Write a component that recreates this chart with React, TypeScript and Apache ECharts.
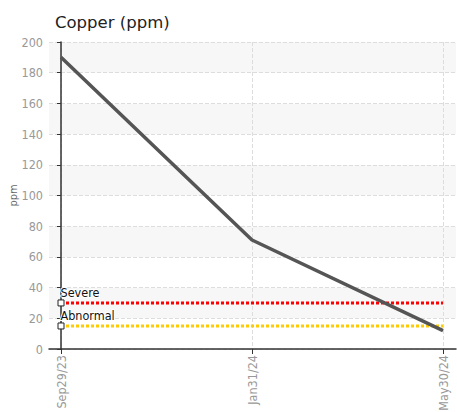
import React, { useEffect, useRef } from "react";
import * as echarts from "echarts";

const categories = ["Sep29/23", "Jan31/24", "May30/24"];
const copperValues = [190, 71, 12];
const severeValue = 30;
const abnormalValue = 15;
const yTicks = [0, 20, 40, 60, 80, 100, 120, 140, 160, 180, 200];

const labelFont = "'DejaVu Sans Condensed', 'Roboto', sans-serif";

export default function App() {
  const ref = useRef<HTMLDivElement>(null);
  useEffect(() => {
    if (!ref.current) return;
    const chart = echarts.init(ref.current, null, { renderer: "svg" });
    const idx = categories.map((_, i) => i);
    const last = categories.length - 1;
    const thresholdData = (v: number) =>
      [0, last].map((i) => ({
        value: [i, v],
        symbol: i === 0 ? "rect" : "none",
      }));
    const thresholdLabel = (text: string) => ({
      show: true,
      position: [3, -13],
      align: "left",
      formatter: (p: any) => (p.dataIndex === 0 ? text : ""),
      color: "#111",
      fontFamily: labelFont,
      fontSize: 12.5,
      textBorderColor: "#fff",
      textBorderWidth: 2,
    });
    chart.setOption({
      animation: false,
      title: {
        text: "Copper (ppm)",
        left: 50,
        top: 9,
        textStyle: { fontFamily: "'DejaVu Sans', sans-serif", fontSize: 16.5, fontWeight: "normal", color: "#222" },
      },
      grid: { left: 49, right: 1, top: 42, bottom: 63, outerBoundsMode: "none", containLabel: false },
      xAxis: {
        type: "value",
        min: -12 / 191,
        max: 2 + 13 / 191,
        axisLine: { show: true, onZero: false, lineStyle: { color: "#333", width: 1.5 } },
        axisTick: { show: true, customValues: idx, length: 5, inside: false, lineStyle: { color: "#333" } },
        axisLabel: {
          customValues: idx,
          rotate: 90,
          color: "#999",
          fontFamily: labelFont,
          fontSize: 12.5,
          margin: 6,
          formatter: (v: number) => categories[Math.round(v)] ?? "",
        },
        splitLine: { show: true, lineStyle: { type: "dashed", color: "#ddd" } },
      },
      yAxis: {
        type: "value",
        min: yTicks[0],
        max: yTicks[yTicks.length - 1],
        interval: 20,
        name: "ppm",
        nameLocation: "middle",
        nameGap: 30,
        nameMoveOverlap: false,
        nameTextStyle: { color: "#666", fontSize: 11, fontFamily: labelFont },
        axisLine: { show: true, lineStyle: { color: "#333", width: 1.5 } },
        axisTick: { show: true, length: 4, lineStyle: { color: "#333" } },
        axisLabel: { color: "#999", fontFamily: labelFont, fontSize: 12.5, margin: 6 },
        splitLine: { show: true, lineStyle: { type: "dashed", color: "#ddd" } },
        splitArea: { show: true, areaStyle: { color: ["#ffffff", "#f7f7f7"] } },
      },
      series: [
        {
          type: "line",
          data: thresholdData(severeValue),
          symbolSize: 6,
          itemStyle: { color: "#fff", borderColor: "#222", borderWidth: 1 },
          lineStyle: { color: "#ff0000", width: 3, type: [3, 2] },
          label: thresholdLabel("Severe"),
          z: 3,
        },
        {
          type: "line",
          data: thresholdData(abnormalValue),
          symbolSize: 6,
          itemStyle: { color: "#fff", borderColor: "#222", borderWidth: 1 },
          lineStyle: { color: "#ffcc00", width: 3, type: [3, 2] },
          label: thresholdLabel("Abnormal"),
          z: 3,
        },
        {
          type: "line",
          data: copperValues.map((v, i) => [i, v]),
          showSymbol: false,
          symbol: "none",
          lineStyle: { color: "#555", width: 3.5 },
          z: 4,
        },
      ],
    });
    return () => chart.dispose();
  }, []);
  return <div ref={ref} style={{ width: 457, height: 412, position: "absolute", left: 0, top: 0 }} />;
}
